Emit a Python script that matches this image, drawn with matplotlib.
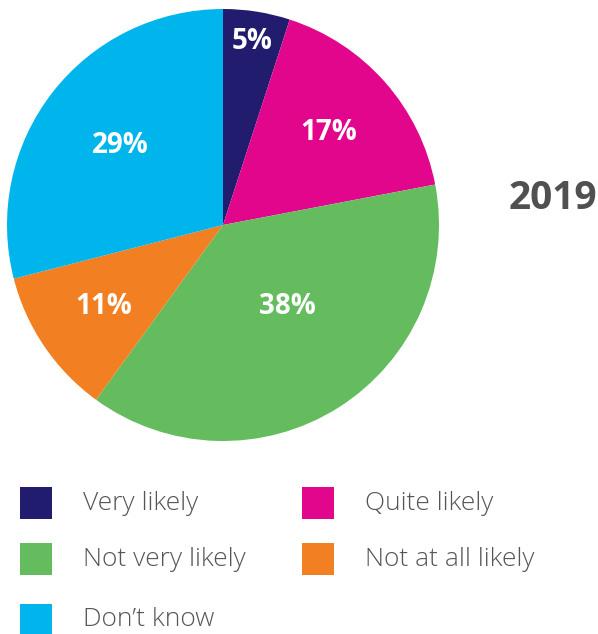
import matplotlib.pyplot as plt
from matplotlib.patches import Rectangle
import numpy as np

# survey answers, 2019
labels = ["Very likely", "Quite likely", "Not very likely", "Not at all likely", "Don\u2019t know"]
shares = [5, 17, 38, 11, 29]
colors = ["#211C6E", "#E2068C", "#64BC5F", "#F28022", "#00B5EC"]
year = "2019"

plt.rcParams['font.family'] = ['Open Sans', 'DejaVu Sans']

W, H = 598, 634
fig = plt.figure(figsize=(W / 100, H / 100), dpi=100)

# pie box in pixels (left, top, size)
px, py, ps = 7, 9, 432
ax = fig.add_axes([px / W, (H - py - ps) / H, ps / W, ps / H])
wedges, _ = ax.pie(shares, colors=colors, startangle=90, counterclock=False,
                   radius=1.0, wedgeprops=dict(linewidth=0))
ax.set_xlim(-1, 1)
ax.set_ylim(-1, 1)
ax.set_aspect('equal')
ax.axis('off')

# percent labels, each placed by its own radius and a small angle nudge
label_r = [0.86, 0.65, 0.48, 0.67, 0.60]
label_da = [0, 0, 6, 0, 0]
for w, s, r, da in zip(wedges, shares, label_r, label_da):
    ang = np.deg2rad((w.theta1 + w.theta2) / 2 + da)
    ax.text(r * np.cos(ang), r * np.sin(ang), f"{s}%", color="white",
            fontsize=20, fontweight="bold", ha="center", va="center")

fig.text(597 / W, 1 - 198 / H, year, fontsize=28, fontweight="bold",
         color="#505050", ha="right", va="center")

# legend laid out in rows of two
slots = [(20, 503), (302, 503), (20, 559), (302, 559), (20, 620)]
sq = 32
for (x, y), lab, c in zip(slots, labels, colors):
    fig.add_artist(Rectangle((x / W, 1 - (y + sq / 2) / H), sq / W, sq / H,
                             transform=fig.transFigure, color=c, lw=0))
    fig.text((x + 63) / W, 1 - y / H, lab, fontsize=19, fontweight="light",
             color="#555555", ha="left", va="center")

fig.savefig("out.png", dpi=100)
